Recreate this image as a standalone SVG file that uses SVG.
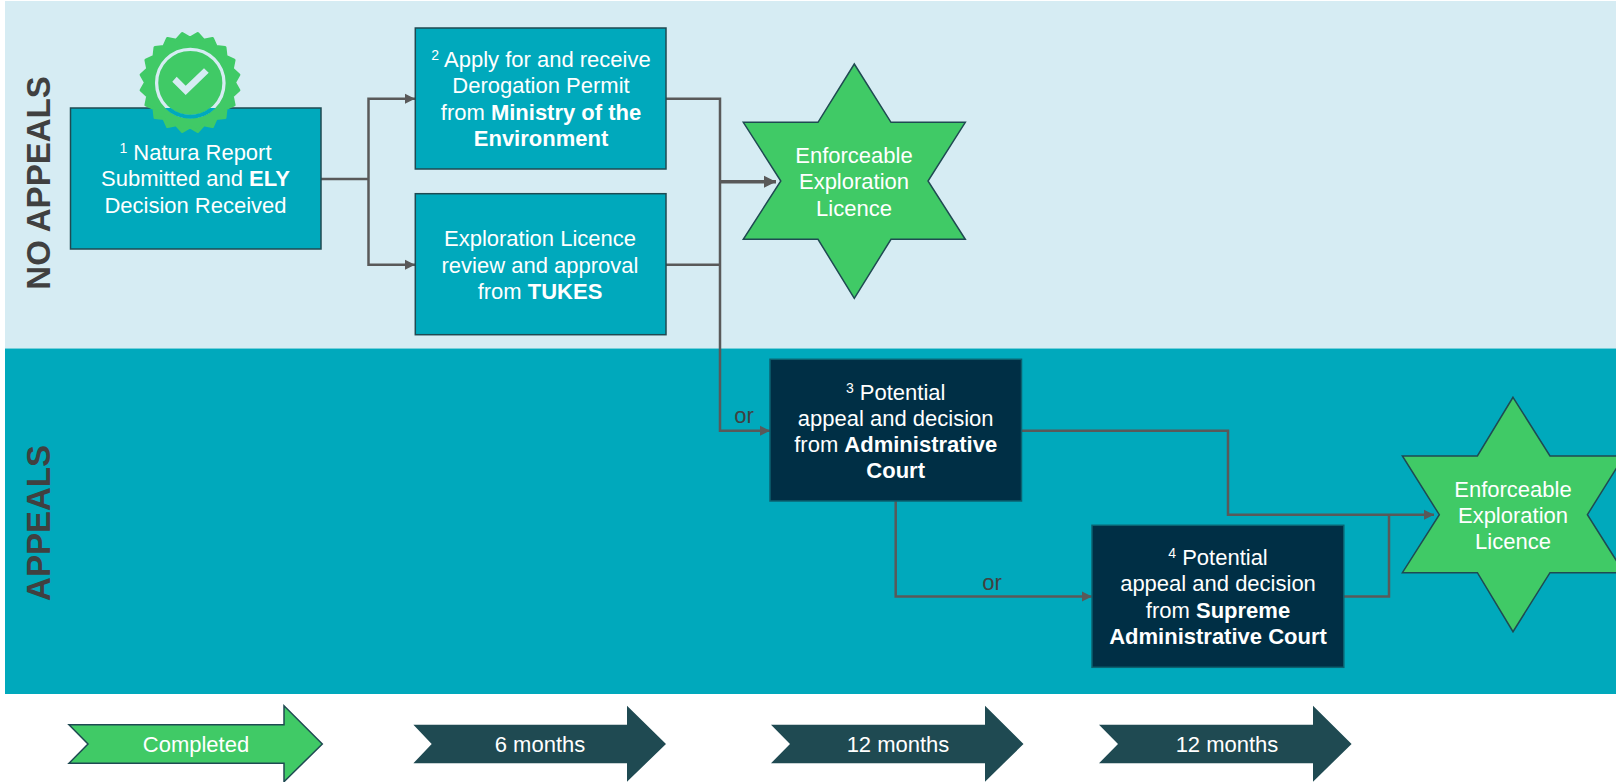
<svg xmlns="http://www.w3.org/2000/svg" width="1616" height="782" viewBox="0 0 1616 782">
<style>
text{font-family:"Liberation Sans",Arial,sans-serif;font-size:22px;fill:#fff;text-anchor:middle}
.b{font-weight:700}
.box{fill:#00a9bc;stroke:#1f4a52;stroke-width:1.5}
.dark{fill:#002f45;stroke:#0b6270;stroke-width:1.5}
.star{fill:#40ca66;stroke:#1f4a52;stroke-width:1.5}
.c{fill:none;stroke:#595959;stroke-width:2.500}
.side{font-size:33px;font-weight:700;fill:#404040}
.or{fill:#404040}
</style>
<defs>
<marker id="a" markerUnits="userSpaceOnUse" markerWidth="12" markerHeight="12" refX="11" refY="6" orient="auto"><path d="M1 1L11 6L1 11z" fill="#595959"/></marker>
<marker id="a2" markerUnits="userSpaceOnUse" markerWidth="14" markerHeight="14" refX="13" refY="7" orient="auto"><path d="M1 1L13 7L1 13z" fill="#595959"/></marker>
<clipPath id="clipBox"><rect x="70" y="108" width="251" height="60"/></clipPath>
</defs>
<rect x="5" y="1" width="1611" height="347.500" fill="#d6ecf3"/>
<rect x="5" y="348.500" width="1611" height="345.500" fill="#00a9bc"/>
<text class="side" transform="translate(50 183) rotate(-90)">NO APPEALS</text>
<text class="side" transform="translate(50 523) rotate(-90)">APPEALS</text>
<g id="connectors">
<path class="c" d="M321 179H368.500"/>
<path class="c" marker-end="url(#a)" d="M368.500 179V98.700H415"/>
<path class="c" marker-end="url(#a)" d="M368.500 179V264.700H415"/>
<path class="c" marker-end="url(#a)" d="M666 98.700H720V430.700H770"/>
<path class="c" d="M666 264.700H720"/>
<path class="c" marker-end="url(#a2)" d="M720 181.700H776" style="stroke-width:3.500"/>
<path class="c" marker-end="url(#a)" d="M1021.500 430.700H1228V514.700H1434"/>
<path class="c" marker-end="url(#a)" d="M895.700 501V596.500H1092"/>
<path class="c" d="M1344 596.500H1389V514.700"/>
</g>
<g id="n1"><rect class="box" x="70.500" y="108" width="250.500" height="141"/>
<text x="195.500" y="160"><tspan font-size="14" dy="-7">1</tspan><tspan dy="7"> Natura Report</tspan></text>
<text x="195.500" y="186.400">Submitted and <tspan class="b">ELY</tspan></text>
<text x="195.500" y="212.700">Decision Received</text></g>
<g id="badge">
<polygon fill="#40ca66" stroke="#40ca66" stroke-width="3" stroke-linejoin="round" points="190,38 197.740,33.610 203.750,40.180 212.470,38.400 216.160,46.500 225,47.500 226,56.340 234.100,60.030 232.320,68.750 238.890,74.760 234.500,82.500 238.890,90.240 232.320,96.250 234.100,104.970 226,108.660 225,117.500 216.160,118.500 212.470,126.600 203.750,124.820 197.740,131.390 190,127 182.260,131.390 176.250,124.820 167.530,126.600 163.840,118.500 155,117.500 154,108.660 145.900,104.970 147.680,96.250 141.110,90.240 145.500,82.500 141.110,74.760 147.680,68.750 145.900,60.030 154,56.340 155,47.500 163.840,46.500 167.530,38.400 176.250,40.180 182.260,33.610"/>
<circle cx="190.300" cy="83" r="33.700" fill="none" stroke="#d6ecf3" stroke-width="3.300"/>
<circle cx="190.300" cy="83" r="33.700" fill="none" stroke="#00a9bc" stroke-width="4" clip-path="url(#clipBox)"/>
<polygon fill="#d6ecf3" points="172.300,81.700 176.700,76.700 185.700,85.700 204,68.300 208.700,72.700 185.700,95"/>
</g>
<g id="n2"><rect class="box" x="415.300" y="28" width="250.700" height="141"/>
<text x="541" y="67.400"><tspan font-size="14" dy="-7">2</tspan><tspan dy="7"> Apply for and receive</tspan></text>
<text x="541" y="93.400">Derogation Permit</text>
<text x="541" y="119.700">from <tspan class="b">Ministry of the</tspan></text>
<text x="541" y="146" class="b">Environment</text></g>
<g id="n3"><rect class="box" x="415.300" y="193.700" width="250.700" height="141"/>
<text x="540" y="246.400">Exploration Licence</text>
<text x="540" y="272.700">review and approval</text>
<text x="540" y="298.700">from <tspan class="b">TUKES</tspan></text></g>
<g id="s1"><polygon class="star" points="854.300,64 891,122.300 965.300,122.300 928,181 965.300,239.300 891,239.300 854.300,298.300 818,239.300 743.300,239.300 780.800,181 743.300,122.300 818,122.300"/>
<text x="854" y="163">Enforceable</text><text x="854" y="189.400">Exploration</text><text x="854" y="215.700">Licence</text></g>
<g id="n4"><rect class="dark" x="770" y="359.300" width="251.500" height="141.700"/>
<text x="895.700" y="399.700"><tspan font-size="14" dy="-7">3</tspan><tspan dy="7"> Potential</tspan></text>
<text x="895.700" y="426">appeal and decision</text>
<text x="895.700" y="452.400">from <tspan class="b">Administrative</tspan></text>
<text x="895.700" y="478" class="b">Court</text></g>
<g id="n5"><rect class="dark" x="1092" y="525.300" width="251.800" height="142"/>
<text x="1218" y="565"><tspan font-size="14" dy="-7">4</tspan><tspan dy="7"> Potential</tspan></text>
<text x="1218" y="591.400">appeal and decision</text>
<text x="1218" y="617.700">from <tspan class="b">Supreme</tspan></text>
<text x="1218" y="644" class="b">Administrative Court</text></g>
<g id="s2"><polygon class="star" points="1513,397.300 1550,456 1624,456 1587.400,514.700 1624,572.700 1550,572.700 1513,631.700 1477.400,572.700 1402.400,572.700 1439.300,514.700 1402.400,456 1477.400,456"/>
<text x="1513" y="496.700">Enforceable</text><text x="1513" y="522.700">Exploration</text><text x="1513" y="548.700">Licence</text></g>
<text class="or" x="744" y="422.500">or</text>
<text class="or" x="992" y="589.500">or</text>
<g id="t1"><polygon fill="#40ca66" stroke="#1f4a52" stroke-width="1.500" points="69,724.700 284,724.700 284,705.700 322.300,744 284,781.700 284,763.300 69,763.300 88,744"/><text x="196" y="751.700">Completed</text></g>
<g id="t2"><polygon fill="#1f4a52" points="413.400,724.700 627,724.700 627,705.700 666,744 627,781.700 627,763.300 413.400,763.300 431.700,744"/><text x="540" y="751.700">6 months</text></g>
<g id="t3"><polygon fill="#1f4a52" points="771,724.700 985,724.700 985,705.700 1023.500,744 985,781.700 985,763.300 771,763.300 790,744"/><text x="898" y="751.700">12 months</text></g>
<g id="t4"><polygon fill="#1f4a52" points="1099,724.700 1313,724.700 1313,705.700 1351.600,744 1313,781.700 1313,763.300 1099,763.300 1118,744"/><text x="1227" y="751.700">12 months</text></g>
</svg>
